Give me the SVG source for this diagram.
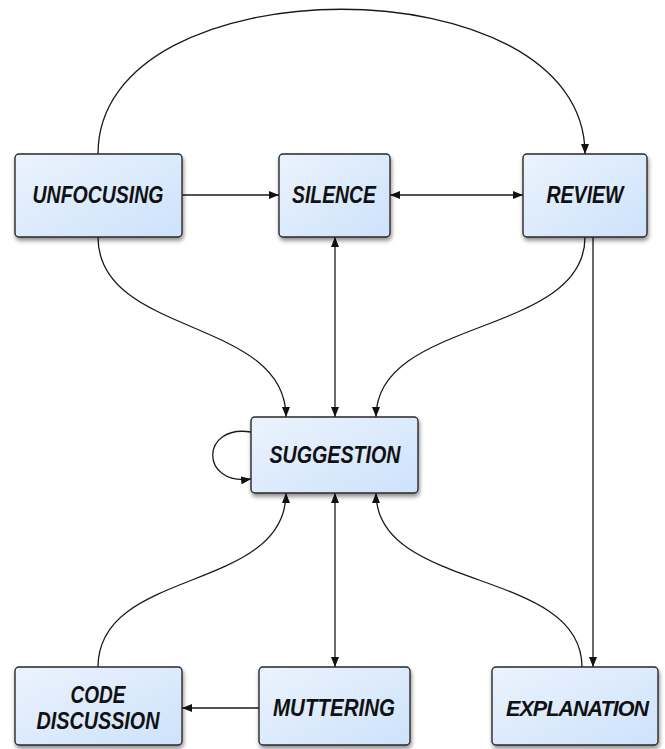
<svg xmlns="http://www.w3.org/2000/svg" width="665" height="749" viewBox="0 0 665 749">
<defs>
<linearGradient id="fillg" x1="0" y1="0" x2="1" y2="1">
<stop offset="0" stop-color="#ebf3fd"/>
<stop offset="1" stop-color="#cde2fb"/>
</linearGradient>
<filter id="shadow" x="-5%" y="-5%" width="112%" height="115%">
<feGaussianBlur in="SourceAlpha" stdDeviation="2.2"/>
<feOffset dx="1" dy="3" result="b"/>
<feComponentTransfer><feFuncA type="linear" slope="0.45"/></feComponentTransfer>
<feMerge><feMergeNode/><feMergeNode in="SourceGraphic"/></feMerge>
</filter>
<marker id="arr" viewBox="0 0 10 8" refX="10" refY="4" markerWidth="10" markerHeight="8" markerUnits="userSpaceOnUse" orient="auto-start-reverse">
<path d="M0,0 L10,4 L0,8 Z" fill="#111"/>
</marker>
</defs>
<style>
.box{fill:url(#fillg);stroke:#2a2a2a;stroke-width:1.4;filter:url(#shadow)}
.lbl{font-family:"Liberation Sans","DejaVu Sans",sans-serif;font-weight:bold;font-style:italic;font-size:23px;fill:#111;text-anchor:middle}
.edge{fill:none;stroke:#1a1a1a;stroke-width:1.3}
.end{marker-end:url(#arr)}
.both{marker-end:url(#arr);marker-start:url(#arr)}
</style>
<rect width="665" height="749" fill="#ffffff"/>
<g id="connectors">
<path class="edge end" d="M98,154 C98,-39 585,-39 585,154"/>
<path class="edge end" d="M182,195 L279,195"/>
<path class="edge both" d="M390,195 L523,195"/>
<path class="edge both" d="M335,237 L335,417"/>
<path class="edge both" d="M335,493 L335,667"/>
<path class="edge end" d="M259,708 L182,708"/>
<path class="edge end" d="M593,237 L593,667"/>
<path class="edge end" d="M98,237 C98,337 286,317 286,417"/>
<path class="edge end" d="M585,237 C585,337 376,317 376,417"/>
<path class="edge end" d="M98,667 C98,567 286,593 286,493"/>
<path class="edge end" d="M582,667 C582,567 376,593 376,493"/>
<path class="edge end" d="M251,432 C200,424 200,486 251,479"/>
</g>
<g id="unfocusing"><rect class="box" x="15" y="154" width="167" height="83" rx="4"/><text class="lbl" x="98" y="203" textLength="131" lengthAdjust="spacingAndGlyphs">UNFOCUSING</text></g>
<g id="silence"><rect class="box" x="279" y="154" width="111" height="83" rx="4"/><text class="lbl" x="334" y="203" textLength="84" lengthAdjust="spacingAndGlyphs">SILENCE</text></g>
<g id="review"><rect class="box" x="523" y="154" width="124" height="83" rx="4"/><text class="lbl" x="585" y="203" textLength="77" lengthAdjust="spacingAndGlyphs">REVIEW</text></g>
<g id="suggestion"><rect class="box" x="251" y="417" width="167" height="76" rx="4"/><text class="lbl" x="335" y="463" textLength="131" lengthAdjust="spacingAndGlyphs">SUGGESTION</text></g>
<g id="code-discussion"><rect class="box" x="15" y="667" width="167" height="78" rx="4"/><text class="lbl" x="98" y="703" textLength="55" lengthAdjust="spacingAndGlyphs">CODE</text><text class="lbl" x="98" y="729" textLength="123" lengthAdjust="spacingAndGlyphs">DISCUSSION</text></g>
<g id="muttering"><rect class="box" x="259" y="667" width="151" height="78" rx="4"/><text class="lbl" x="334" y="716" textLength="122" lengthAdjust="spacingAndGlyphs">MUTTERING</text></g>
<g id="explanation"><rect class="box" x="492" y="667" width="166" height="78" rx="4"/><text class="lbl" x="577" y="716" style="font-size:22px;letter-spacing:-1px" textLength="142" lengthAdjust="spacingAndGlyphs">EXPLANATION</text></g>
</svg>
